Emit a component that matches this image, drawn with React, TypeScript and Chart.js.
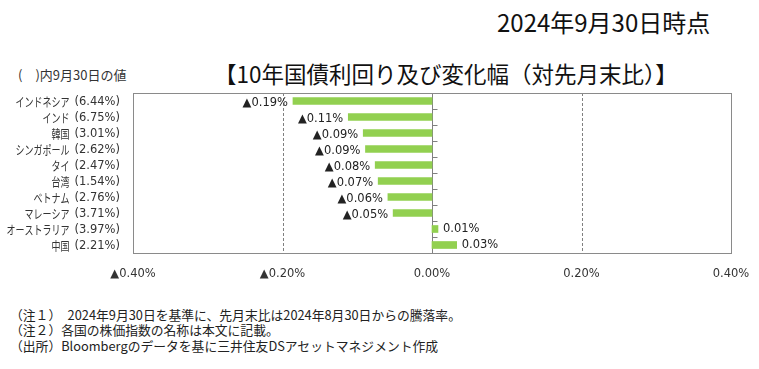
import React, { useEffect, useRef } from "react";
import { Chart, registerables } from "chart.js";

Chart.register(...registerables);

const countries = ["インドネシア", "インド", "韓国", "シンガポール", "タイ", "台湾", "ベトナム", "マレーシア", "オーストラリア", "中国"];
const yields = [6.44, 6.75, 3.01, 2.62, 2.47, 1.54, 2.76, 3.71, 3.97, 2.21];
const changes = [-0.186, -0.112, -0.092, -0.089, -0.076, -0.072, -0.059, -0.052, 0.008, 0.033];
const xTicks = [-0.4, -0.2, 0, 0.2, 0.4];

const FONT = "'Noto Sans CJK JP', 'Noto Sans', sans-serif";
const NUMFONT = "'DejaVu Sans', 'Noto Sans CJK JP', sans-serif";

const fmt = (v: number) => (v < 0 ? "▲" : "") + Math.abs(v).toFixed(2) + "%";

const gridPlugin = {
  id: "customGrid",
  beforeDatasetsDraw(chart: any) {
    const { ctx, chartArea } = chart;
    const xs = chart.scales.x;
    const ys = chart.scales.y;
    ctx.save();
    ctx.strokeStyle = "#808080";
    ctx.lineWidth = 1;
    for (const t of xTicks) {
      if (t === 0 || Math.abs(t) === 0.4) continue;
      const px = Math.round(xs.getPixelForValue(t)) + 0.5;
      ctx.setLineDash([3, 2]);
      ctx.beginPath();
      ctx.moveTo(px, chartArea.top);
      ctx.lineTo(px, chartArea.bottom);
      ctx.stroke();
    }
    ctx.setLineDash([]);
    const zx = Math.round(xs.getPixelForValue(0)) + 0.5;
    ctx.beginPath();
    ctx.moveTo(zx, chartArea.top);
    ctx.lineTo(zx, chartArea.bottom);
    ctx.stroke();
    for (let i = 0; i < countries.length - 1; i++) {
      const py = Math.round(ys.getPixelForValue(i + 0.5)) + 0.5;
      ctx.beginPath();
      ctx.moveTo(zx, py);
      ctx.lineTo(zx + 5, py);
      ctx.stroke();
    }
    ctx.strokeStyle = "#8a8a8a";
    ctx.strokeRect(
      Math.round(chartArea.left) + 0.5,
      Math.round(chartArea.top) + 0.5,
      Math.round(chartArea.right - chartArea.left),
      Math.round(chartArea.bottom - chartArea.top)
    );
    ctx.restore();
  },
  afterDatasetsDraw(chart: any) {
    const { ctx, chartArea } = chart;
    const meta = chart.getDatasetMeta(0);
    const ys = chart.scales.y;
    ctx.save();
    ctx.font = "11.5px " + NUMFONT;
    ctx.fillStyle = "#222";
    ctx.textBaseline = "middle";
    meta.data.forEach((bar: any, i: number) => {
      const v = changes[i];
      const txt = fmt(v);
      if (v < 0) {
        ctx.textAlign = "right";
        ctx.fillText(txt, bar.x - 5, bar.y + 2);
      } else {
        ctx.textAlign = "left";
        ctx.fillText(txt, bar.x + 5, bar.y);
      }
    });
    const right = chartArea.left - 13;
    countries.forEach((c, i) => {
      const y = ys.getPixelForValue(i) + 1;
      const yt = `(${yields[i].toFixed(2)}%)`;
      ctx.fillStyle = "#333";
      ctx.textAlign = "right";
      ctx.font = "11.5px " + NUMFONT;
      ctx.fillText(yt, right, y);
      const w = ctx.measureText(yt).width;
      ctx.font = "12.5px " + FONT;
      ctx.save();
      ctx.translate(right - w - 5, y);
      ctx.scale(0.72, 1);
      ctx.fillText(c, 0, 0);
      ctx.restore();
    });
    ctx.restore();
  },
};

function ChartBox() {
  const ref = useRef<HTMLCanvasElement>(null);
  useEffect(() => {
    if (!ref.current) return;
    const chart = new Chart(ref.current, {
      type: "bar",
      data: {
        labels: countries,
        datasets: [
          {
            data: changes,
            backgroundColor: "#92D050",
            barThickness: 7,
          },
        ],
      },
      options: {
        indexAxis: "y",
        animation: false,
        responsive: false,
        maintainAspectRatio: false,
        layout: { padding: { left: 0, right: 28, top: 8, bottom: 0 } },
        plugins: { legend: { display: false }, tooltip: { enabled: false } },
        scales: {
          x: {
            min: -0.4,
            max: 0.4,
            afterBuildTicks: (s: any) => {
              s.ticks = xTicks.map((v) => ({ value: v }));
            },
            afterFit: (s: any) => {
              s.height = 32;
            },
            grid: { display: false },
            border: { display: false },
            ticks: {
              callback: (v: any) => fmt(Number(v)),
              font: { size: 11.5, family: NUMFONT },
              color: "#333",
              padding: 6,
              maxRotation: 0,
            },
          },
          y: {
            afterFit: (s: any) => {
              s.width = 133;
            },
            grid: { display: false },
            border: { display: false },
            ticks: { display: false },
          },
        },
      },
      plugins: [gridPlugin],
    } as any);
    return () => chart.destroy();
  }, []);
  return <canvas ref={ref} width={759} height={200} style={{ position: "absolute", left: 0, top: 85, width: 759, height: 200 }} />;
}

export default function App() {
  const t = (style: React.CSSProperties, text: string) => (
    <div style={{ position: "absolute", whiteSpace: "nowrap", fontFamily: FONT, color: "#111", lineHeight: 1, ...style }}>{text}</div>
  );
  return (
    <div style={{ position: "fixed", left: 0, top: 0, width: 759, height: 369, background: "#fff", overflow: "hidden" }}>
      {t({ left: 497, top: 10, fontSize: 24 }, "2024年9月30日時点")}
      {t({ left: 18, top: 68, fontSize: 13, color: "#333" }, "(　)内9月30日の値")}
      {t({ left: 214, top: 62, fontSize: 22.5 }, "【10年国債利回り及び変化幅（対先月末比）】")}
      <ChartBox />
      {t({ left: 10, top: 309, fontSize: 12.8, color: "#222" }, "（注１）　2024年9月30日を基準に、先月末比は2024年8月30日からの騰落率。")}
      {t({ left: 10, top: 324, fontSize: 12.8, color: "#222" }, "（注２）各国の株価指数の名称は本文に記載。")}
      {t({ left: 10, top: 340, fontSize: 12.8, color: "#222" }, "（出所）Bloombergのデータを基に三井住友DSアセットマネジメント作成")}
    </div>
  );
}
